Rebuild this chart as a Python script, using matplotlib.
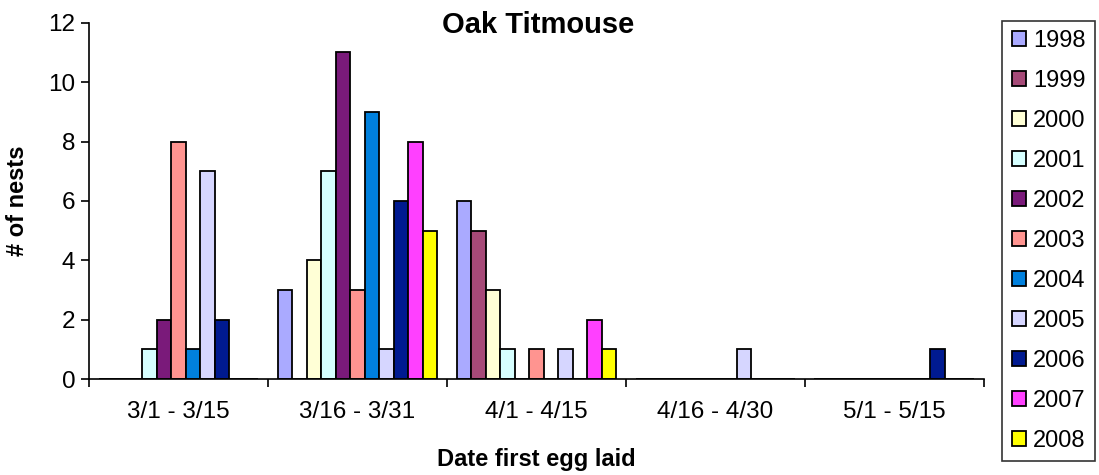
import numpy as np
import matplotlib
matplotlib.use('Agg')
import matplotlib.pyplot as plt

plt.rcParams['font.family'] = ['Liberation Sans', 'DejaVu Sans']

categories = ['3/1 - 3/15', '3/16 - 3/31', '4/1 - 4/15', '4/16 - 4/30', '5/1 - 5/15']
years = ['1998', '1999', '2000', '2001', '2002', '2003', '2004', '2005', '2006', '2007', '2008']
nests = [
    [0, 3, 6, 0, 0],   # 1998
    [0, 0, 5, 0, 0],   # 1999
    [0, 4, 3, 0, 0],   # 2000
    [1, 7, 1, 0, 0],   # 2001
    [2, 11, 0, 0, 0],  # 2002
    [8, 3, 1, 0, 0],   # 2003
    [1, 9, 0, 0, 0],   # 2004
    [7, 1, 1, 1, 0],   # 2005
    [2, 6, 0, 0, 1],   # 2006
    [0, 8, 2, 0, 0],   # 2007
    [0, 5, 1, 0, 0],   # 2008
]
colors = ['#AAAAFF', '#A64A78', '#FFFFD6', '#D6FFFF', '#7A1A7A', '#FF9490',
          '#0080DD', '#D6D6FF', '#001A90', '#FF40FF', '#FFFF00']

fig = plt.figure(figsize=(10.99, 4.75), dpi=100)
ax = fig.add_axes([0.081, 0.202, 0.814, 0.75])

x = np.arange(len(categories))
w = 0.081
for i, yr in enumerate(years):
    ax.bar(x + (i - 5) * w, nests[i], w, color=colors[i], edgecolor='black',
           linewidth=1.3, label=yr)

ax.set_xlim(-0.5, len(categories) - 0.5)
ax.set_ylim(0, 12)
ax.set_yticks(range(0, 13, 2))
ax.set_xticks(x)
ax.set_xticklabels(categories)
ax.set_xticks(np.arange(-0.5, len(categories), 1), minor=True)
ax.tick_params(axis='x', which='major', length=0, pad=16, labelsize=17.5)
ax.tick_params(axis='x', which='minor', length=6, direction='out', width=1.2)
ax.tick_params(axis='y', length=6, direction='out', width=1.2, labelsize=17.5, pad=4)
for s in ['top', 'right']:
    ax.spines[s].set_visible(False)
for s in ['left', 'bottom']:
    ax.spines[s].set_linewidth(1.2)

fig.text(0.4895, 0.947, 'Oak Titmouse', fontsize=21, fontweight='bold',
         ha='center', va='center')
ax.set_xlabel('Date first egg laid', fontsize=17, fontweight='bold', labelpad=18)
ax.set_ylabel('# of nests', fontsize=17, fontweight='bold', labelpad=14)

leg = ax.legend(loc='upper left', bbox_to_anchor=(1.021, 1.006),
                bbox_transform=ax.transAxes, fontsize=17, frameon=True,
                fancybox=False, edgecolor='black', handlelength=0.6,
                handleheight=0.6, handletextpad=0.3, labelspacing=0.76,
                borderpad=0.4, borderaxespad=0.0)
leg.get_frame().set_linewidth(1.2)

fig.savefig('out.png', dpi=100)
